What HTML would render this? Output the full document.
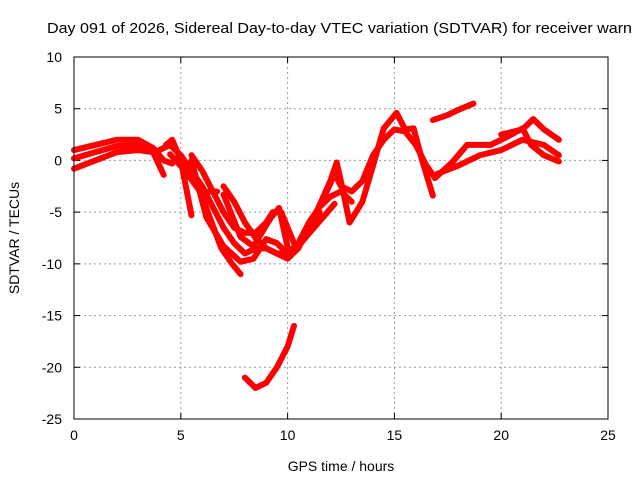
<!DOCTYPE html>
<html><head><meta charset="utf-8"><style>
body{margin:0;background:#fff;width:640px;height:480px;overflow:hidden;font-family:"Liberation Sans",sans-serif;}
svg text{font-family:"Liberation Sans",sans-serif;font-size:14px;fill:#000;}
</style></head><body>
<svg id="chart" width="640" height="480" xmlns="http://www.w3.org/2000/svg">
<text x="47" y="33" style="font-size:15px" textLength="585" lengthAdjust="spacingAndGlyphs">Day 091 of 2026, Sidereal Day-to-day VTEC variation (SDTVAR) for receiver warn</text>
<text x="341" y="471" text-anchor="middle">GPS time / hours</text>
<text transform="translate(19,238) rotate(-90)" text-anchor="middle">SDTVAR / TECUs</text>
<g id="grid"></g><g id="ticks"></g><g id="series"></g>
<rect x="74" y="57" width="534" height="362" fill="none" stroke="#000" stroke-width="1"/>
</svg>
<script>
const xTicks=[0,5,10,15,20,25];
const yTicks=[10,5,0,-5,-10,-15,-20,-25];
const sA=[[0,1],[1,1.5],[2,2],[3,2],[3.7,1.2],[4.2,0],[4.6,-0.3]];
const sA2=[[0,-0.8],[1,0],[2,0.8],[3,1],[3.7,0.8],[4.2,-1.4]];
const sA3=[[0,0.2],[1,0.8],[2,1.4],[3,1.5],[3.7,1]];
const sB=[[4.3,1.5],[4.6,2],[5,0],[5.5,-5.3]];
const sC=[[4.5,0.6],[5.2,-1],[5.9,-3],[6.9,-8.5],[7.4,-10],[7.8,-11]];
const sC2=[[4,1],[4.5,1.5],[5,0.5],[5.5,-1],[6,-2.5],[6.5,-4.5],[7,-6.5],[7.5,-8],[8,-9],[8.5,-8.5],[9,-8.5],[9.5,-9],[10,-9.5],[10.5,-8.5],[11,-6.5],[11.5,-5]];
const sD=[[5.5,0],[6.2,-5.5],[7,-8.3],[7.8,-9.8],[8.4,-9.5],[9,-7.6],[9.5,-8],[10,-9],[10.5,-8],[11,-6],[11.5,-4.5],[12,-3.5],[12.5,-3],[13,-4]];
const sD2=[[5.5,0.5],[6,-1],[6.5,-3],[7,-5],[7.5,-6.5],[8,-7],[8.5,-7],[9,-6],[9.3,-5],[9.7,-5],[10,-6.5],[10.3,-8]];
const sE=[[7,-3.3],[7.8,-7.4],[8.4,-8.3],[9.2,-5.6],[9.6,-4.6],[10.1,-9.3],[10.9,-7.3],[12.2,-4.2]];
const sE2=[[7,-2.5],[7.5,-4],[8,-6],[8.5,-7.5],[9,-8.5],[9.5,-9],[10,-9]];
const sF=[[6.3,-3],[6.7,-3]];
const sG=[[8,-21],[8.5,-22],[9,-21.5],[9.5,-20],[10,-18],[10.3,-16]];
const sH=[[11,-6.6],[12,-2],[12.3,-0.2],[12.6,-3],[12.9,-6],[13.5,-4],[14,-0.5],[14.5,3.1],[15.1,4.6],[15.5,3],[15.9,3.1],[16.3,0],[16.8,-3.4]];
const sI=[[11.5,-4.5],[12.2,-1.3],[12.5,-2.5],[13,-3],[13.5,-2],[14,0.5],[14.5,2],[15,3],[15.5,2.8],[16,1.5],[16.5,-0.5],[16.9,-1.7]];
const sJ=[[16.9,-1.7],[17.7,-0.2],[18.4,1.5],[19.5,1.5],[20.3,2.3],[21,3.1],[21.4,1.5],[22,0.5],[22.7,-0.1]];
const sK=[[16.8,3.9],[17.5,4.4],[18,4.9],[18.7,5.5]];
const sL=[[20,2.5],[21,3],[21.5,4],[22,3],[22.7,2]];
const sM=[[17,-1.3],[18,-0.5],[19,0.5],[20,1],[21,2],[22,1.5],[22.7,0.5]];
const allSeries=[sA,sA2,sA3,sB,sC,sC2,sD,sD2,sE,sE2,sF,sG,sH,sI,sJ,sK,sL,sM];
const X0=74,X1=608,Y0=419,Y1=57;
function xs(v){return X0+(v-0)/(25-0)*(X1-X0);}
function ys(v){return Y0-(v+25)/35*(Y0-Y1);}
const NS="http://www.w3.org/2000/svg";
const grid=document.getElementById('grid'),ticks=document.getElementById('ticks'),ser=document.getElementById('series');
function mk(tag,attrs,parent){const e=document.createElementNS(NS,tag);for(const k in attrs)e.setAttribute(k,attrs[k]);parent.appendChild(e);return e;}
xTicks.forEach(t=>{
  const x=xs(t);
  if(t>0&&t<25){const g=mk('line',{x1:x,x2:x,y1:Y1,y2:Y0,stroke:'#999','stroke-dasharray':'2,3','stroke-width':1},grid);
  
  }
  const l=mk('text',{x:x,y:Y0+21,'text-anchor':'middle'},ticks);l.textContent=t;
  
  
  mk('line',{x1:x,x2:x,y1:Y0,y2:Y0-6,stroke:'#000'},ticks);mk('line',{x1:x,x2:x,y1:Y1,y2:Y1+6,stroke:'#000'},ticks);
});
yTicks.forEach(t=>{
  const y=ys(t);
  if(t>-25&&t<10){const g=mk('line',{x1:X0,x2:X1,y1:y,y2:y,stroke:'#999','stroke-dasharray':'2,3','stroke-width':1},grid);
  
  }
  const l=mk('text',{x:X0-12,y:y+5,'text-anchor':'end'},ticks);l.textContent=t;
  
  
  mk('line',{x1:X0,x2:X0+6,y1:y,y2:y,stroke:'#000'},ticks);mk('line',{x1:X1,x2:X1-6,y1:y,y2:y,stroke:'#000'},ticks);
});
allSeries.forEach((s,i)=>{
  const p=mk('polyline',{points:s.map(d=>xs(d[0])+','+ys(d[1])).join(' '),fill:'none',stroke:'#f00','stroke-width':6,'stroke-linejoin':'round','stroke-linecap':'round'},ser);
  
  
});
</script>
</body></html>
